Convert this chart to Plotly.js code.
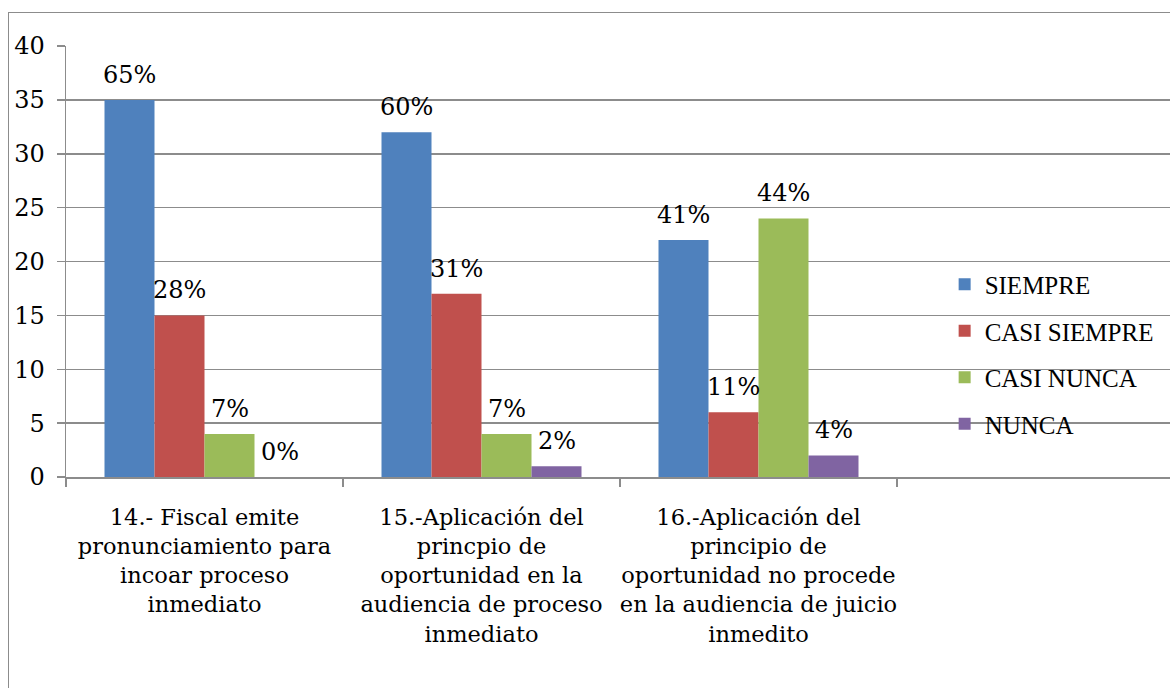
<!DOCTYPE html>
<html>
<head>
<meta charset="utf-8">
<script src="https://cdn.plot.ly/plotly-3.0.1.min.js"></script>
<style>
html,body{margin:0;padding:0;background:#fff;overflow:hidden;width:1170px;height:688px;}
#chart{position:absolute;left:0;top:0;}
#frame{position:absolute;left:8px;top:12px;width:1300px;height:800px;border:1.5px solid #8c8c8c;pointer-events:none;}
</style>
</head>
<body>
<div id="chart"></div>
<div id="frame"></div>
<script>
var categories = [
  "14.- Fiscal emite<br>pronunciamiento para<br>incoar proceso<br>inmediato",
  "15.-Aplicación del<br>princpio de<br>oportunidad en la<br>audiencia de proceso<br>inmediato",
  "16.-Aplicación del<br>principio de<br>oportunidad no procede<br>en la audiencia de juicio<br>inmedito"
];
var seriesNames = ["SIEMPRE", "CASI SIEMPRE", "CASI NUNCA", "NUNCA"];
var siempre = [35, 32, 22];
var casiSiempre = [15, 17, 6];
var casiNunca = [4, 4, 24];
var nunca = [0, 1, 2];
var pctSiempre = ["65%", "60%", "41%"];
var pctCasiSiempre = ["28%", "31%", "11%"];
var pctCasiNunca = ["7%", "7%", "44%"];
var pctNunca = ["0%", "2%", "4%"];
var colors = ["#4F81BD", "#C0504D", "#9BBB59", "#8064A2"];

var values = [siempre, casiSiempre, casiNunca, nunca];
var labels = [pctSiempre, pctCasiSiempre, pctCasiNunca, pctNunca];
var FONT = "DejaVu Serif";
var LFONT = "Liberation Serif";
var FS = 24;
var bargap = 0.278;
var allCats = categories.concat([" "]);

var traces = values.map(function(v, i){
  return {
    type: "bar",
    name: seriesNames[i],
    x: categories,
    y: v,
    marker: {color: colors[i]},
    legendgroup: "g" + i,
    hoverinfo: "skip"
  };
});

var annotations = [];
var bw = (1 - bargap) / values.length;
values.forEach(function(v, i){
  v.forEach(function(val, j){
    annotations.push({
      x: j + (i - (values.length - 1) / 2) * bw,
      y: val,
      xref: "x", yref: "y",
      text: labels[i][j],
      showarrow: false,
      yanchor: "bottom",
      yshift: 9,
      font: {family: FONT, size: FS, color: "#000"}
    });
  });
});

var layout = {
  width: 1180,
  height: 688,
  margin: {l: 66, r: 6, t: 46, b: 211},
  paper_bgcolor: "rgba(0,0,0,0)",
  plot_bgcolor: "rgba(0,0,0,0)",
  barmode: "group",
  bargap: bargap,
  bargroupgap: 0,
  font: {family: FONT, size: FS, color: "#000"},
  showlegend: true,
  legend: {
    x: 0.793, y: 0.5, xanchor: "left", yanchor: "top",
    font: {family: LFONT, size: 25, color: "#000"},
    traceorder: "grouped",
    tracegroupgap: 11,
    itemwidth: 30,
    bgcolor: "rgba(0,0,0,0)"
  },
  xaxis: {
    type: "category",
    categoryorder: "array",
    categoryarray: allCats,
    range: [-0.5, 3.5],
    tickson: "boundaries",
    ticks: "outside",
    ticklen: 8,
    tickwidth: 1.5,
    tickcolor: "#8c8c8c",
    tickangle: 0,
    showline: true,
    linecolor: "#8c8c8c",
    linewidth: 1.5,
    showgrid: false,
    zeroline: false,
    tickfont: {family: FONT, size: 22.5, color: "#000"},
    ticklabelstandoff: 19,
    fixedrange: true
  },
  yaxis: {
    range: [0, 40],
    dtick: 5,
    tick0: 0,
    ticks: "outside",
    ticklen: 8,
    tickwidth: 1.5,
    tickcolor: "#8c8c8c",
    showline: true,
    linecolor: "#8c8c8c",
    linewidth: 1.5,
    showgrid: true,
    gridcolor: "#8c8c8c",
    gridwidth: 1.5,
    zeroline: false,
    tickfont: {family: FONT, size: FS, color: "#000"},
    ticklabelstandoff: 7,
    fixedrange: true
  },
  annotations: annotations
};

Plotly.newPlot("chart", traces, layout, {displayModeBar: false, staticPlot: true});
</script>
</body>
</html>
